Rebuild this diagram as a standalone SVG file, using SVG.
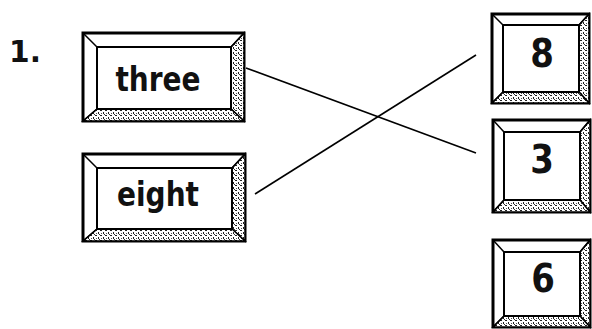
<svg xmlns="http://www.w3.org/2000/svg" width="592" height="329" viewBox="0 0 592 329">
<defs>
<pattern id="stip" width="5" height="5" patternUnits="userSpaceOnUse">
<rect width="5" height="5" fill="#ffffff"/>
<rect x="0" y="0" width="2" height="1" fill="#222"/>
<rect x="3" y="2" width="1" height="2" fill="#222"/>
<rect x="1" y="3" width="1" height="1" fill="#555"/>
<rect x="4" y="4" width="1" height="1" fill="#333"/>
</pattern>
</defs>
<style>
.outer{fill:#fff;stroke:#000;stroke-width:3}
.inner{fill:#fff;stroke:#000;stroke-width:2}
.shade{fill:url(#stip);stroke:#000;stroke-width:1.5}
.diag{stroke:#000;stroke-width:1.5}
.lbl{font-family:"DejaVu Sans","Verdana",sans-serif;font-weight:bold;fill:#111;text-anchor:middle}
.conn{stroke:#000;stroke-width:1.6;fill:none}
</style>
<rect width="592" height="329" fill="#fff"/>
<text transform="translate(9,62) scale(1.1,1.1)" style="font-family:'DejaVu Sans',sans-serif;font-weight:bold;font-size:27px;fill:#111">1.</text>

<g id="node-three">
<rect class="outer" x="83" y="33" width="161" height="88"/>
<polygon class="shade" points="244,33 231,47 231,109 244,121"/>
<polygon class="shade" points="83,121 97,109 231,109 244,121"/>
<line class="diag" x1="83" y1="33" x2="97" y2="47"/>
<line class="diag" x1="244" y1="33" x2="231" y2="47"/>
<line class="diag" x1="83" y1="121" x2="97" y2="109"/>
<rect class="inner" x="97" y="47" width="134" height="62"/>
<text class="lbl" transform="translate(158,91) scale(1,1.22)" style="font-size:28px">three</text>
</g>

<g id="node-eight">
<rect class="outer" x="83" y="154" width="162" height="87"/>
<polygon class="shade" points="245,154 232,168 232,229 245,241"/>
<polygon class="shade" points="83,241 97,229 232,229 245,241"/>
<line class="diag" x1="83" y1="154" x2="97" y2="168"/>
<line class="diag" x1="245" y1="154" x2="232" y2="168"/>
<line class="diag" x1="83" y1="241" x2="97" y2="229"/>
<rect class="inner" x="97" y="168" width="135" height="61"/>
<text class="lbl" transform="translate(158,206) scale(1,1.22)" style="font-size:28px">eight</text>
</g>

<g id="node-8">
<rect class="outer" x="492" y="14" width="97" height="89"/>
<polygon class="shade" points="589,14 579,25 579,92 589,103"/>
<polygon class="shade" points="492,103 503,92 579,92 589,103"/>
<line class="diag" x1="492" y1="14" x2="503" y2="25"/>
<line class="diag" x1="589" y1="14" x2="579" y2="25"/>
<line class="diag" x1="492" y1="103" x2="503" y2="92"/>
<rect class="inner" x="503" y="25" width="76" height="67"/>
<text class="lbl" transform="translate(542,67) scale(1,1.15)" style="font-size:34px">8</text>
</g>

<g id="node-3">
<rect class="outer" x="493" y="120" width="97" height="92"/>
<polygon class="shade" points="590,120 580,132 580,200 590,212"/>
<polygon class="shade" points="493,212 504,200 580,200 590,212"/>
<line class="diag" x1="493" y1="120" x2="504" y2="132"/>
<line class="diag" x1="590" y1="120" x2="580" y2="132"/>
<line class="diag" x1="493" y1="212" x2="504" y2="200"/>
<rect class="inner" x="504" y="132" width="76" height="68"/>
<text class="lbl" transform="translate(542,173) scale(1,1.15)" style="font-size:34px">3</text>
</g>

<g id="node-6">
<rect class="outer" x="493" y="240" width="97" height="87"/>
<polygon class="shade" points="590,240 580,252 580,316 590,327"/>
<polygon class="shade" points="493,327 504,316 580,316 590,327"/>
<line class="diag" x1="493" y1="240" x2="504" y2="252"/>
<line class="diag" x1="590" y1="240" x2="580" y2="252"/>
<line class="diag" x1="493" y1="327" x2="504" y2="316"/>
<rect class="inner" x="504" y="252" width="76" height="64"/>
<text class="lbl" transform="translate(543,292) scale(1,1.15)" style="font-size:34px">6</text>
</g>

<g id="connectors">
<line class="conn" x1="246" y1="68" x2="476" y2="153"/>
<line class="conn" x1="255" y1="194" x2="476" y2="55"/>
</g>
</svg>
